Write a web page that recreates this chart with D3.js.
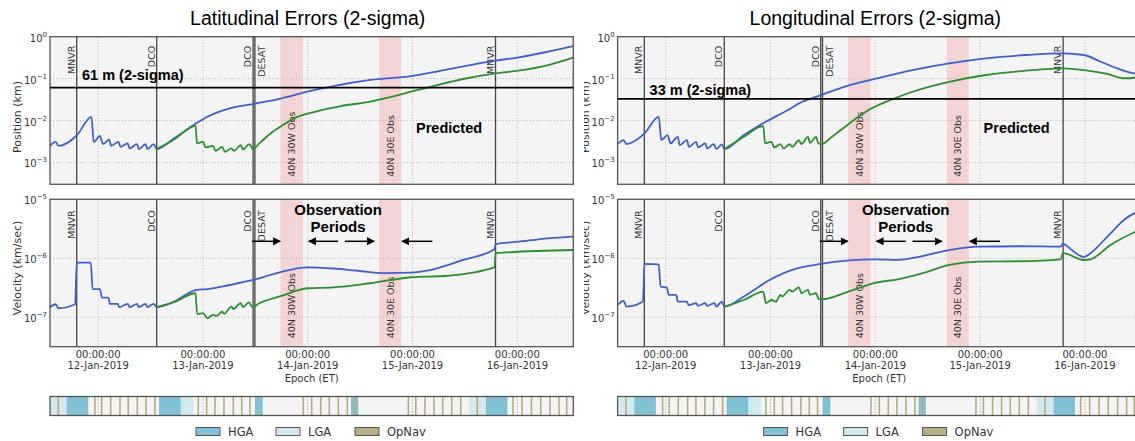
<!DOCTYPE html>
<meta charset="utf-8">
<style>
  body { margin: 0; background: #fff; }
  svg text { font-family: "DejaVu Sans", sans-serif; fill: #333; }
  .ann { font-family: "Liberation Sans", Arial, sans-serif; font-weight: bold; fill: #000; }
</style>
<script src="https://cdn.jsdelivr.net/npm/d3@7"></script>
<svg id="chart" width="1135" height="441"></svg>
<script>
  // time is in days from 12-Jan-2019 00:00:00 ET
  var timeRange = [-0.459, 4.534];
  var dayTicks = [0, 1, 2, 3, 4];
  var posTicks = [1e-3, 1e-2, 1e-1, 1];
  var velTicks = [1e-7, 1e-6, 1e-5];

  var events = [[-0.204, "MNVR"], [0.559, "DCO"], [1.479, "DCO"], [1.496, "DESAT"], [3.792, "MNVR"]];
  var obsBands = [[1.74, 1.955, "40N 30W Obs"], [2.682, 2.892, "40N 30E Obs"]];
  var obsArrows = [[1.47, 1.738], [2.29, 2.01], [2.355, 2.635], [3.19, 2.9]];

  var hgaSpans = [[-0.3, -0.094], [0.581, 0.788], [1.497, 1.571], [2.413, 2.483], [3.701, 3.905]];
  var lgaSpans = [[-0.459, -0.3], [0.788, 0.908], [3.542, 3.701]];
  var opnavTimes = [-0.38, -0.03, 0.034, 0.12, 0.209, 0.288, 0.374, 0.457, 0.543, 0.956, 1.036, 1.115,
    1.201, 1.29, 1.37, 1.449, 1.958, 2.038, 2.124, 2.206, 2.292, 2.378, 2.45, 2.96, 3.031, 3.119, 3.205,
    3.288, 3.374, 3.46, 3.618, 3.959, 4.045, 4.135, 4.223, 4.312, 4.398, 4.471];
  var legendItems = ["HGA", "LGA", "OpNav"];

  // latitudinal errors, [day, value]
  var latPosBlue = [[-0.459,2.5e-3],[-0.406,3.1e-3],[-0.378,2.5e-3],[-0.204,4.4e-3],[-0.063,1.23e-2],[-0.042,3.1e-3],
    [0.018,4.3e-3],[0.046,2.75e-3],[0.107,3.5e-3],[0.124,2.5e-3],[0.195,3.1e-3],[0.213,2.37e-3],[0.283,2.85e-3],
    [0.301,2.16e-3],[0.371,2.75e-3],[0.389,2.09e-3],[0.453,2.75e-3],[0.47,2.09e-3],[0.531,2.75e-3],[0.559,2.09e-3],
    [0.725,3.76e-3],[0.937,8.6e-3],[1.043,1.23e-2],[1.255,1.95e-2],[1.478,2.48e-2],[1.75,3.39e-2],[1.997,4.9e-2],
    [2.245,6.65e-2],[2.598,9.3e-2],[2.987,0.115],[3.304,0.16],[3.793,0.268],[4.012,0.32],[4.293,0.44],[4.534,0.6]];
  var latPosGreen = [[0.559,2.09e-3],[0.725,3.55e-3],[0.93,7.5e-3],[0.944,2.85e-3],[1.001,3.1e-3],[1.026,2.29e-3],
    [1.096,2.5e-3],[1.121,1.9e-3],[1.184,2.37e-3],[1.209,1.8e-3],[1.273,2.16e-3],[1.297,1.9e-3],[1.361,2.6e-3],
    [1.382,2.04e-3],[1.443,2.75e-3],[1.478,2.09e-3],[1.538,2.85e-3],[1.644,4.9e-3],[1.75,7.4e-3],[1.891,1.19e-2],
    [2.068,1.62e-2],[2.315,2.22e-2],[2.598,2.82e-2],[2.775,3.57e-2],[2.987,4.9e-2],[3.199,6.65e-2],[3.482,9.8e-2],
    [3.793,0.134],[4.012,0.155],[4.293,0.21],[4.534,0.316]];
  var latVelBlue = [[-0.459,1.48e-7],[-0.406,1.66e-7],[-0.378,1.42e-7],[-0.219,1.66e-7],[-0.204,8.4e-7],[-0.07,8.4e-7],
    [-0.052,3.0e-7],[0.018,3.0e-7],[0.036,2.15e-7],[0.099,2.15e-7],[0.113,1.68e-7],[0.188,1.68e-7],[0.202,1.48e-7],
    [0.283,1.68e-7],[0.301,1.48e-7],[0.371,1.68e-7],[0.389,1.48e-7],[0.453,1.68e-7],[0.47,1.48e-7],[0.531,1.68e-7],
    [0.559,1.48e-7],[0.725,1.84e-7],[0.937,2.9e-7],[1.043,3.0e-7],[1.255,3.52e-7],[1.478,4.28e-7],[1.75,5.9e-7],
    [1.997,7.0e-7],[2.245,6.7e-7],[2.457,6.2e-7],[2.74,5.6e-7],[2.987,5.7e-7],[3.163,6.3e-7],[3.482,9.35e-7],
    [3.782,1.42e-6],[3.793,1.73e-6],[4.012,1.91e-6],[4.293,2.18e-6],[4.534,2.33e-6]];
  var latVelGreen = [[0.559,1.48e-7],[0.725,1.8e-7],[0.93,2.55e-7],[0.944,1.14e-7],[1.001,1.17e-7],[1.043,9.6e-8],
    [1.096,1.1e-7],[1.13,1.05e-7],[1.184,1.25e-7],[1.2,1.14e-7],[1.273,1.51e-7],[1.29,1.37e-7],[1.361,1.73e-7],
    [1.382,1.48e-7],[1.44,1.79e-7],[1.47,1.48e-7],[1.538,1.73e-7],[1.75,2.3e-7],[1.997,3.1e-7],[2.245,3.2e-7],
    [2.598,3.77e-7],[2.987,4.76e-7],[3.304,5.0e-7],[3.782,7.0e-7],[3.793,1.22e-6],[4.534,1.38e-6]];

  // longitudinal errors, [day, value]
  var lonPosBlue = [[-0.459,2.75e-3],[-0.402,3.43e-3],[-0.374,2.75e-3],[-0.202,4.95e-3],[-0.066,1.23e-2],[-0.042,3.43e-3],
    [0.018,4.5e-3],[0.046,2.85e-3],[0.115,4.1e-3],[0.133,2.6e-3],[0.203,3.43e-3],[0.221,2.37e-3],[0.291,3.1e-3],
    [0.308,2.29e-3],[0.378,2.85e-3],[0.396,2.16e-3],[0.459,2.75e-3],[0.483,2.09e-3],[0.535,2.7e-3],[0.56,2.09e-3],
    [0.746,4.5e-3],[0.956,9.4e-3],[1.166,1.78e-2],[1.271,2.57e-2],[1.481,4.06e-2],[1.725,6.65e-2],[2.006,0.1],
    [2.355,0.16],[2.705,0.231],[3.055,0.304],[3.44,0.366],[3.79,0.4],[3.99,0.366],[4.149,0.253],[4.308,0.176],
    [4.435,0.139],[4.534,0.128]];
  var lonPosGreen = [[0.56,2.09e-3],[0.746,4.1e-3],[0.931,7.4e-3],[0.948,2.85e-3],[1.008,3.1e-3],[1.036,2.29e-3],
    [1.095,2.75e-3],[1.124,2.16e-3],[1.183,2.75e-3],[1.208,2.37e-3],[1.271,3.43e-3],[1.295,2.75e-3],[1.358,4.1e-3],
    [1.376,2.95e-3],[1.435,4.1e-3],[1.456,2.85e-3],[1.491,2.75e-3],[1.586,4.1e-3],[1.743,8.2e-3],[1.935,1.78e-2],
    [2.145,3.09e-2],[2.355,4.87e-2],[2.705,8.4e-2],[3.055,0.122],[3.44,0.155],[3.79,0.176],[3.99,0.16],
    [4.213,0.129],[4.371,0.102],[4.435,0.102],[4.534,0.12]];
  var lonVelBlue = [[-0.459,1.61e-7],[-0.402,1.89e-7],[-0.374,1.51e-7],[-0.217,1.84e-7],[-0.202,8.0e-7],[-0.066,7.9e-7],
    [-0.049,3.3e-7],[0.01,3.2e-7],[0.029,2.39e-7],[0.1,2.39e-7],[0.115,1.84e-7],[0.2,1.84e-7],[0.22,1.61e-7],
    [0.291,1.73e-7],[0.308,1.56e-7],[0.378,1.73e-7],[0.396,1.56e-7],[0.466,1.73e-7],[0.483,1.51e-7],[0.535,1.84e-7],
    [0.56,1.51e-7],[0.746,2.24e-7],[0.991,4.28e-7],[1.236,6.6e-7],[1.481,8.0e-7],[1.725,9.1e-7],[2.006,9.6e-7],
    [2.216,9.4e-7],[2.426,1.07e-6],[2.705,1.38e-6],[2.985,1.57e-6],[3.37,1.6e-6],[3.767,1.57e-6],[3.79,1.75e-6],
    [3.88,1.35e-6],[3.99,1.05e-6],[4.053,1.22e-6],[4.244,2.65e-6],[4.371,4.46e-6],[4.534,6.6e-6]];
  var lonVelGreen = [[0.56,1.51e-7],[0.746,1.96e-7],[0.931,2.72e-7],[0.956,1.73e-7],[1.008,1.96e-7],[1.05,1.84e-7],
    [1.095,2.39e-7],[1.11,2.24e-7],[1.183,2.9e-7],[1.208,2.72e-7],[1.271,3.22e-7],[1.295,2.55e-7],[1.358,2.9e-7],
    [1.376,2.4e-7],[1.435,2.55e-7],[1.46,2.02e-7],[1.491,2.02e-7],[1.743,2.72e-7],[2.006,3.86e-7],[2.216,4.4e-7],
    [2.495,5.9e-7],[2.705,7.7e-7],[2.985,8.8e-7],[3.37,8.9e-7],[3.77,9.6e-7],[3.79,1.22e-6],[3.99,9.35e-7],
    [4.053,9.6e-7],[4.244,1.68e-6],[4.483,2.83e-6],[4.534,3.1e-6]];

  var panels = [
    {title: "Latitudinal Errors (2-sigma)", x0: 50, limit: 0.061, limitLabel: "61 m (2-sigma)", limitDy: -8,
     pos: [latPosBlue, latPosGreen], vel: [latVelBlue, latVelGreen], clip: false},
    {title: "Longitudinal Errors (2-sigma)", x0: 617.6, limit: 0.033, limitLabel: "33 m (2-sigma)", limitDy: -4,
     pos: [lonPosBlue, lonPosGreen], vel: [lonVelBlue, lonVelGreen], clip: true}
  ];

  var base = Date.UTC(2019, 0, 12);
  function t(d) { return new Date(base + d * 864e5); }

  var W = 523.3;
  var posBox = {top: 36.7, bottom: 184.3, labelTop: 9, labelBottom: 7.5, ylabelY: 117},
      velBox = {top: 199.3, bottom: 346.7, labelTop: 11, labelBottom: 8.4, ylabelY: 268},
      stripBox = {top: 396.5, bottom: 415.5};
  var lineColors = ["#3d5fd2", "#2b8f2b"];
  var legendColors = {HGA: "#80c1d4", LGA: "#d3e9f0", OpNav: "#b8b084"};
  var legendOffsets = [146, 226, 305];
  var fmtTime = d3.utcFormat("%H:%M:%S"), fmtDate = d3.utcFormat("%d-%b-%Y");

  var svg = d3.select("#chart");
  var defs = svg.append("defs");
  defs.append("marker").attr("id", "arrowHead").attr("viewBox", "0 0 10 10")
      .attr("refX", 9).attr("refY", 5).attr("markerWidth", 8).attr("markerHeight", 9)
      .attr("markerUnits", "userSpaceOnUse").attr("orient", "auto")
    .append("path").attr("d", "M0,0L10,5L0,10Z").attr("fill", "#000");
  // the right figure is cropped on its left side in the original
  defs.append("clipPath").attr("id", "rightClip")
    .append("rect").attr("x", 584).attr("y", 0).attr("width", 560).attr("height", 441);

  function supLabel(sel, v) {
    var e = Math.round(Math.log10(v));
    sel.text("10");
    sel.append("tspan").attr("dy", -5).style("font-size", "7px").text(String(e).replace("-", "\u2212"));
  }

  function drawSub(g, x, y, box, ticks, series, ylabel) {
    var x0 = x.range()[0];
    g.append("rect").attr("x", x0).attr("y", box.top).attr("width", W).attr("height", box.bottom - box.top)
      .attr("fill", "#f4f4f4");

    // observation windows
    g.selectAll(null).data(obsBands).enter().append("rect")
      .attr("x", function(d) { return x(t(d[0])); })
      .attr("width", function(d) { return x(t(d[1])) - x(t(d[0])); })
      .attr("y", box.top).attr("height", box.bottom - box.top)
      .attr("fill", "#f3d3d3");

    // grid
    g.selectAll(null).data(dayTicks).enter().append("line")
      .attr("x1", function(d) { return x(t(d)); }).attr("x2", function(d) { return x(t(d)); })
      .attr("y1", box.top).attr("y2", box.bottom)
      .attr("stroke", "#b4b4b4").attr("stroke-width", 1).attr("stroke-dasharray", "1,2");
    g.selectAll(null).data(ticks).enter().append("line")
      .attr("x1", x0).attr("x2", x0 + W)
      .attr("y1", function(d) { return y(d); }).attr("y2", function(d) { return y(d); })
      .attr("stroke", "#b4b4b4").attr("stroke-width", 1).attr("stroke-dasharray", "1,2");

    // band labels
    g.selectAll(null).data(obsBands).enter().append("text")
      .attr("transform", function(d) {
        return "translate(" + ((x(t(d[0])) + x(t(d[1]))) / 2 + 3.4) + "," + (box.bottom - box.labelBottom) + ") rotate(-90)";
      })
      .style("font-size", "9.5px").text(function(d) { return d[2]; });

    // event lines
    g.selectAll(null).data(events).enter().append("line")
      .attr("x1", function(d) { return x(t(d[0])); }).attr("x2", function(d) { return x(t(d[0])); })
      .attr("y1", box.top).attr("y2", box.bottom)
      .attr("stroke", "#444").attr("stroke-width", 1.3);
    g.selectAll(null).data(events).enter().append("text")
      .attr("transform", function(d) {
        var lx = x(t(d[0])) + (d[1] === "DESAT" ? 10.5 : -2);
        return "translate(" + lx + "," + (box.top + box.labelTop) + ") rotate(-90)";
      })
      .attr("text-anchor", "end").style("font-size", "9.5px").text(function(d) { return d[1]; });

    // series
    var line = d3.line()
      .x(function(d) { return x(t(d[0])); })
      .y(function(d) { return y(d[1]); })
      .curve(d3.curveMonotoneX);
    series.forEach(function(s, i) {
      g.append("path").datum(s).attr("d", line).attr("fill", "none")
        .attr("stroke", lineColors[i]).attr("stroke-width", 1.8).attr("stroke-linejoin", "round");
    });

    g.append("rect").attr("x", x0).attr("y", box.top).attr("width", W).attr("height", box.bottom - box.top)
      .attr("fill", "none").attr("stroke", "#555").attr("stroke-width", 1.3);

    // y ticks
    g.selectAll(null).data(ticks).enter().append("text")
      .attr("x", x0 - 3).attr("y", function(d) { return y(d) + 5; })
      .attr("text-anchor", "end").style("font-size", "10px")
      .each(function(d) { supLabel(d3.select(this), d); });

    g.append("text")
      .attr("transform", "translate(" + (x0 - 29) + "," + box.ylabelY + ") rotate(-90)")
      .attr("text-anchor", "middle").style("font-size", "11px").text(ylabel);
  }

  function drawPanel(p) {
    var g = svg.append("g");
    if (p.clip) g.attr("clip-path", "url(#rightClip)");
    var x = d3.scaleUtc().domain(timeRange.map(t)).range([p.x0, p.x0 + W]);
    var yP = d3.scaleLog().domain([Math.pow(10, -3.52), 1]).range([posBox.bottom, posBox.top]);
    var yV = d3.scaleLog().domain([Math.pow(10, -7.5), 1e-5]).range([velBox.bottom, velBox.top]);

    g.append("text").attr("x", p.x0 + W / 2 - 4).attr("y", 25).attr("text-anchor", "middle")
      .style("font-family", "'Liberation Sans', Arial, sans-serif").style("font-size", "19.5px")
      .style("fill", "#000").text(p.title);

    drawSub(g, x, yP, posBox, posTicks, p.pos, "Position (km)");
    drawSub(g, x, yV, velBox, velTicks, p.vel, "Velocity (km/sec)");

    // 2-sigma requirement
    g.append("line").attr("x1", p.x0).attr("x2", p.x0 + W)
      .attr("y1", yP(p.limit)).attr("y2", yP(p.limit))
      .attr("stroke", "#000").attr("stroke-width", 1.8);
    g.append("text").attr("class", "ann").attr("x", p.x0 + 32).attr("y", yP(p.limit) + p.limitDy)
      .style("font-size", "14.5px").text(p.limitLabel);
    g.append("text").attr("class", "ann").attr("x", p.x0 + 366).attr("y", posBox.top + 96.5)
      .style("font-size", "14.5px").text("Predicted");

    // observation periods
    var cx = x(t(2.29));
    g.append("text").attr("class", "ann").attr("x", cx).attr("y", velBox.top + 16)
      .attr("text-anchor", "middle").style("font-size", "15px").text("Observation");
    g.append("text").attr("class", "ann").attr("x", cx).attr("y", velBox.top + 32.5)
      .attr("text-anchor", "middle").style("font-size", "15px").text("Periods");
    g.selectAll(null).data(obsArrows).enter().append("line")
      .attr("x1", function(d) { return x(t(d[0])); }).attr("x2", function(d) { return x(t(d[1])); })
      .attr("y1", velBox.top + 42).attr("y2", velBox.top + 42)
      .attr("stroke", "#000").attr("stroke-width", 1.5).attr("marker-end", "url(#arrowHead)");

    // x axis
    var ax = g.selectAll(null).data(dayTicks).enter();
    ax.append("text").attr("x", function(d) { return x(t(d)); }).attr("y", 357.5)
      .attr("text-anchor", "middle").style("font-size", "10px").text(function(d) { return fmtTime(t(d)); });
    ax.append("text").attr("x", function(d) { return x(t(d)); }).attr("y", 368.5)
      .attr("text-anchor", "middle").style("font-size", "10px").text(function(d) { return fmtDate(t(d)); });
    g.append("text").attr("x", p.x0 + W / 2).attr("y", 381.5).attr("text-anchor", "middle")
      .style("font-size", "10px").text("Epoch (ET)");

    // antenna / opnav timeline
    var sh = stripBox.bottom - stripBox.top;
    g.append("rect").attr("x", p.x0).attr("y", stripBox.top).attr("width", W).attr("height", sh).attr("fill", "#f4f4f4");
    [[lgaSpans, legendColors.LGA], [hgaSpans, legendColors.HGA]].forEach(function(s) {
      g.selectAll(null).data(s[0]).enter().append("rect")
        .attr("x", function(d) { return x(t(d[0])); })
        .attr("width", function(d) { return x(t(d[1])) - x(t(d[0])); })
        .attr("y", stripBox.top).attr("height", sh).attr("fill", s[1]);
    });
    g.selectAll(null).data(dayTicks).enter().append("line")
      .attr("x1", function(d) { return x(t(d)); }).attr("x2", function(d) { return x(t(d)); })
      .attr("y1", stripBox.top).attr("y2", stripBox.bottom)
      .attr("stroke", "#999").attr("stroke-dasharray", "1,2");
    g.selectAll(null).data(opnavTimes).enter().append("line")
      .attr("x1", function(d) { return x(t(d)); }).attr("x2", function(d) { return x(t(d)); })
      .attr("y1", stripBox.top).attr("y2", stripBox.bottom)
      .attr("stroke", "#b5ac7e").attr("stroke-width", 1.6);
    g.append("rect").attr("x", p.x0).attr("y", stripBox.top).attr("width", W).attr("height", sh)
      .attr("fill", "none").attr("stroke", "#555").attr("stroke-width", 1.3);

    // legend
    var lg = g.selectAll(null).data(legendItems).enter().append("g")
      .attr("transform", function(d, i) { return "translate(" + (p.x0 + legendOffsets[i]) + ",427.5)"; });
    lg.append("rect").attr("width", 24).attr("height", 8)
      .attr("fill", function(d) { return legendColors[d]; }).attr("stroke", "#555").attr("stroke-width", 1);
    lg.append("text").attr("x", 32).attr("y", 8.5).style("font-size", "11.5px").text(function(d) { return d; });
  }

  panels.forEach(drawPanel);
</script>
